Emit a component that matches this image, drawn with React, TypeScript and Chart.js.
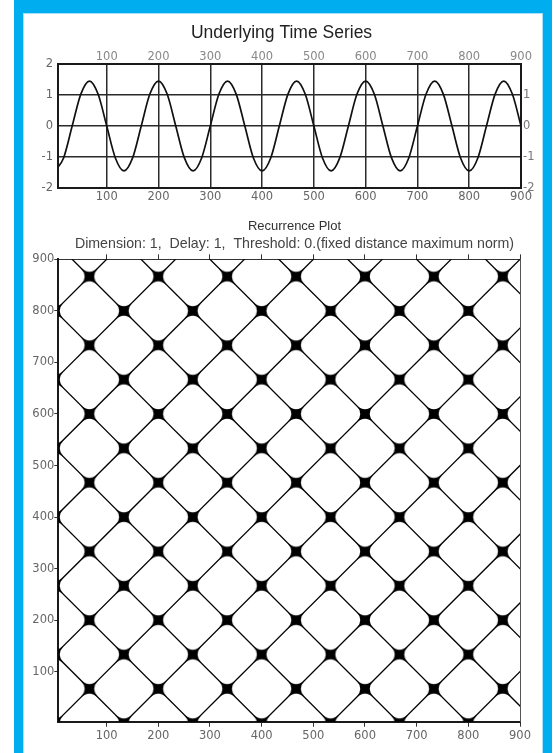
import React, { useEffect, useRef } from "react";
import { Chart, registerables } from "chart.js";

Chart.register(...registerables);

// ---- Underlying time series ----
const seriesTimes = [
  0, 16.7, 33.3, 50, 66.7, 83.3, 100, 116.7, 133.3, 150, 166.7, 183.3, 200, 216.7,
  233.3, 250, 266.7, 283.3, 300, 316.7, 333.3, 350, 366.7, 383.3, 400, 416.7, 433.3,
  450, 466.7, 483.3, 500, 516.7, 533.3, 550, 566.7, 583.3, 600, 616.7, 633.3, 650,
  666.7, 683.3, 700, 716.7, 733.3, 750, 766.7, 783.3, 800, 816.7, 833.3, 850, 866.7,
  883.3, 900,
];
const seriesValues = [
  -1.45, -1.03, 0, 1.03, 1.45, 1.03, 0, -1.03,
  -1.45, -1.03, 0, 1.03, 1.45, 1.03, 0, -1.03,
  -1.45, -1.03, 0, 1.03, 1.45, 1.03, 0, -1.03,
  -1.45, -1.03, 0, 1.03, 1.45, 1.03, 0, -1.03,
  -1.45, -1.03, 0, 1.03, 1.45, 1.03, 0, -1.03,
  -1.45, -1.03, 0, 1.03, 1.45, 1.03, 0, -1.03,
  -1.45, -1.03, 0, 1.03, 1.45, 1.03, 0,
];

// ---- Recurrence plot: times of the troughs and peaks of the series ----
const troughTimes = [0, 133.3, 266.7, 400, 533.3, 666.7, 800];
const peakTimes = [66.7, 200, 333.3, 466.7, 600, 733.3, 866.7];

// ---- Axes ----
const timeTicks = [100, 200, 300, 400, 500, 600, 700, 800, 900];
const valueTicksLeft = [-2, -1, 0, 1, 2];
const valueTicksRight = [-2, -1, 0, 1];
const rpTicks = [100, 200, 300, 400, 500, 600, 700, 800, 900];
const timeMin = 6.5;
const timeMax = 900;
const rpYMin = 3;

const TITLE_TS = "Underlying Time Series";
const TITLE_RP = "Recurrence Plot";
const SUBTITLE_RP = "Dimension: 1,  Delay: 1,  Threshold: 0.(fixed distance maximum norm)";

const TICK_FONT = { family: "'DejaVu Sans', sans-serif", size: 11.5 };
const TITLE_FAMILY = "'Liberation Sans', Arial, sans-serif";

function setTicks(values: number[]) {
  return (s: any) => {
    s.ticks = values.map((v) => ({ value: v }));
  };
}

function makeBlob(): HTMLCanvasElement {
  const c = document.createElement("canvas");
  const s = 20;
  c.width = s;
  c.height = s;
  const g = c.getContext("2d")!;
  g.translate(s / 2, s / 2);
  const r = 8.5;
  const k = 1;
  g.beginPath();
  g.moveTo(r, r);
  g.quadraticCurveTo(k, 0, r, -r);
  g.quadraticCurveTo(0, -k, -r, -r);
  g.quadraticCurveTo(-k, 0, -r, r);
  g.quadraticCurveTo(0, k, r, r);
  g.closePath();
  g.fillStyle = "#000";
  g.fill();
  return c;
}

export default function App() {
  const ref1 = useRef<HTMLCanvasElement | null>(null);
  const ref2 = useRef<HTMLCanvasElement | null>(null);

  useEffect(() => {
    const c1 = new Chart(ref1.current!, {
      type: "scatter",
      data: {
        datasets: [
          {
            data: seriesTimes.map((t, i) => ({ x: t, y: seriesValues[i] })),
            showLine: true,
            borderColor: "#111",
            borderWidth: 1.7,
            pointRadius: 0,
            cubicInterpolationMode: "monotone",
            clip: 0,
            xAxisID: "x",
            yAxisID: "y",
          } as any,
        ],
      },
      options: {
        animation: false,
        responsive: false,
        events: [],
        layout: { padding: { left: 0, right: 3, top: 0, bottom: 0 }, autoPadding: false } as any,
        plugins: {
          legend: { display: false },
          tooltip: { enabled: false },
          title: {
            display: true,
            text: TITLE_TS,
            color: "#222",
            font: { family: TITLE_FAMILY, size: 17.5, weight: "normal", lineHeight: 1.2 },
            padding: { top: 9.8, bottom: 0 },
          },
        },
        scales: {
          x: {
            type: "linear",
            position: "bottom",
            min: timeMin,
            max: timeMax,
            afterBuildTicks: setTicks(timeTicks),
            afterFit: (s: any) => {
              s.height = 30;
            },
            ticks: { color: "#666", font: TICK_FONT, padding: 1.9, maxRotation: 0, autoSkip: false },
            grid: { color: "#2a2a2a", lineWidth: 1.5, drawTicks: false },
            border: { display: true, color: "#1a1a1a", width: 2 },
          },
          x2: {
            type: "linear",
            position: "top",
            min: timeMin,
            max: timeMax,
            afterBuildTicks: setTicks(timeTicks),
            afterFit: (s: any) => {
              s.height = 20.2;
            },
            ticks: { color: "#888", font: TICK_FONT, padding: 0.2, maxRotation: 0, autoSkip: false },
            grid: { drawOnChartArea: false, drawTicks: false },
            border: { display: true, color: "#1a1a1a", width: 2 },
          },
          y: {
            type: "linear",
            position: "left",
            min: -2,
            max: 2,
            afterBuildTicks: setTicks(valueTicksLeft),
            afterFit: (s: any) => {
              s.width = 35.3;
            },
            ticks: { color: "#666", font: TICK_FONT, padding: 5.3 },
            grid: { color: "#2a2a2a", lineWidth: 1.5, drawTicks: false },
            border: { display: true, color: "#1a1a1a", width: 2 },
          },
          y2: {
            type: "linear",
            position: "right",
            min: -2,
            max: 2,
            afterBuildTicks: setTicks(valueTicksRight),
            afterFit: (s: any) => {
              s.width = 19;
            },
            ticks: { color: "#777", font: TICK_FONT, padding: 2 },
            grid: { drawOnChartArea: false, drawTicks: false },
            border: { display: true, color: "#1a1a1a", width: 2 },
          },
        },
      } as any,
    });

    // recurrence lines derived from the extremum times
    const diagOffsets = new Map<number, number>();
    const antiSums = new Map<number, number>();
    for (const group of [troughTimes, peakTimes]) {
      for (const a of group) {
        for (const b of group) {
          diagOffsets.set(Math.round(b - a), b - a);
          antiSums.set(Math.round(a + b), a + b);
        }
      }
    }
    const lo = -300;
    const hi = 1200;
    const lineStyle = {
      showLine: true,
      borderColor: "#000",
      borderWidth: 1.3,
      pointRadius: 0,
      clip: 0,
      xAxisID: "x",
      yAxisID: "y",
    };
    const lineSets: any[] = [];
    diagOffsets.forEach((d) => {
      lineSets.push({ ...lineStyle, data: [{ x: lo, y: lo + d }, { x: hi, y: hi + d }] });
    });
    antiSums.forEach((sum) => {
      lineSets.push({ ...lineStyle, data: [{ x: lo, y: sum - lo }, { x: hi, y: sum - hi }] });
    });
    const blobPts: { x: number; y: number }[] = [];
    for (const group of [troughTimes, peakTimes]) {
      for (const a of group) for (const b of group) blobPts.push({ x: a, y: b });
    }
    const blob = makeBlob();

    const c2 = new Chart(ref2.current!, {
      type: "scatter",
      data: {
        datasets: [
          ...lineSets,
          {
            data: blobPts,
            pointStyle: blob,
            pointRadius: 10,
            showLine: false,
            clip: 0,
            xAxisID: "x",
            yAxisID: "y",
          },
        ],
      },
      options: {
        animation: false,
        responsive: false,
        events: [],
        layout: { padding: { left: 0, right: 0, top: 0, bottom: 0 }, autoPadding: false } as any,
        plugins: {
          legend: { display: false },
          tooltip: { enabled: false },
          title: {
            display: true,
            text: TITLE_RP,
            color: "#333",
            font: { family: TITLE_FAMILY, size: 13, weight: "normal", lineHeight: 1.2 },
            padding: { top: 13.2, bottom: 0 },
          },
          subtitle: {
            display: true,
            text: SUBTITLE_RP,
            color: "#444",
            font: { family: TITLE_FAMILY, size: 14.2, weight: "normal", lineHeight: 1.2 },
            padding: { top: 1.7, bottom: 0 },
          },
        },
        scales: {
          x: {
            type: "linear",
            position: "bottom",
            min: timeMin,
            max: timeMax,
            afterBuildTicks: setTicks(rpTicks),
            afterFit: (s: any) => {
              s.height = 31.3;
            },
            ticks: { color: "#666", font: TICK_FONT, padding: 2.2, maxRotation: 0, autoSkip: false },
            grid: { drawOnChartArea: false, drawTicks: true, tickLength: 5, tickColor: "#333", tickWidth: 1 },
            border: { display: true, color: "#1a1a1a", width: 2 },
          },
          x2: {
            type: "linear",
            position: "top",
            min: timeMin,
            max: timeMax,
            afterBuildTicks: setTicks(rpTicks),
            afterFit: (s: any) => {
              s.height = 6.8;
            },
            ticks: { display: false },
            grid: { drawOnChartArea: false, drawTicks: true, tickLength: 5, tickColor: "#333", tickWidth: 1 },
            border: { display: true, color: "#333", width: 1 },
          },
          y: {
            type: "linear",
            position: "left",
            min: rpYMin,
            max: timeMax,
            afterBuildTicks: setTicks(rpTicks),
            afterFit: (s: any) => {
              s.width = 35.3;
            },
            ticks: { color: "#666", font: TICK_FONT, padding: 0 },
            grid: { drawOnChartArea: false, drawTicks: true, tickLength: 4, tickColor: "#333", tickWidth: 1 },
            border: { display: true, color: "#1a1a1a", width: 2 },
          },
          y2: {
            type: "linear",
            position: "right",
            min: rpYMin,
            max: timeMax,
            afterBuildTicks: setTicks(rpTicks),
            afterFit: (s: any) => {
              s.width = 46;
            },
            ticks: { display: false },
            grid: { drawOnChartArea: false, drawTicks: false },
            border: { display: true, color: "#555", width: 1 },
          },
        },
      } as any,
    });

    return () => {
      c1.destroy();
      c2.destroy();
    };
  }, []);

  return (
    <div
      style={{
        position: "fixed",
        left: 0,
        top: 0,
        width: 555,
        height: 753,
        background: "#fff",
        overflow: "hidden",
      }}
    >
      <div style={{ position: "absolute", left: 14, top: 0, width: 538, height: 753, background: "#00AEEF" }} />
      <div
        style={{
          position: "absolute",
          left: 23,
          top: 13,
          width: 520,
          height: 740,
          background: "#fff",
          boxShadow: "inset 1px 1px 0 #A6DFF7, inset -1px 0 0 #A6DFF7",
        }}
      />
      <canvas
        ref={ref1}
        width={520}
        height={205}
        style={{ position: "absolute", left: 23, top: 13, width: 520, height: 205 }}
      />
      <canvas
        ref={ref2}
        width={543}
        height={548}
        style={{ position: "absolute", left: 23, top: 205, width: 543, height: 548 }}
      />
    </div>
  );
}
